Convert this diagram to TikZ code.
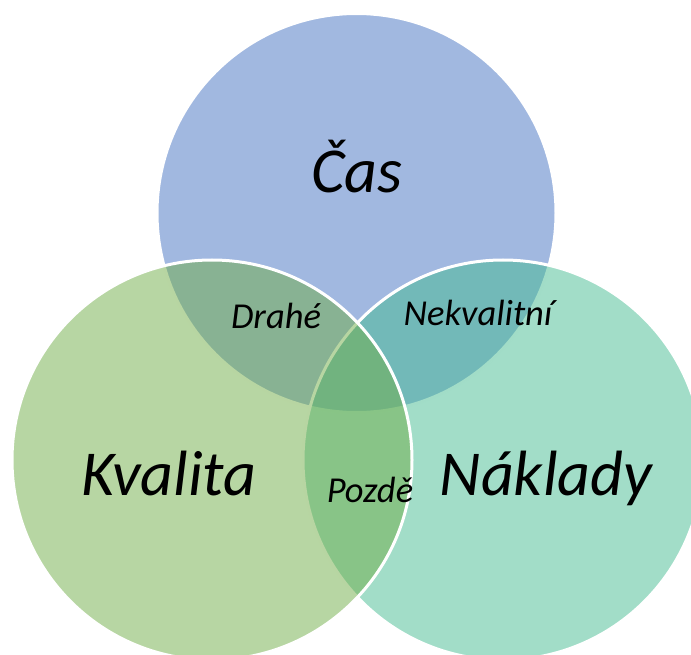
\documentclass[tikz,border=0pt]{standalone}
\usepackage{fontspec}
\setmainfont{Carlito}
\definecolor{vennblue}{RGB}{67,113,193}
\definecolor{vennteal}{RGB}{69,187,145}
\definecolor{venngreen}{RGB}{112,173,71}
\begin{document}
\begin{tikzpicture}[x=1pt,y=-1pt,
  venn/.style={fill opacity=0.5, draw=white, draw opacity=1, line width=3pt},
  biglabel/.style={anchor=base, inner sep=0pt, font=\fontsize{64}{70}\selectfont\itshape},
  smalllabel/.style={anchor=base, inner sep=0pt, font=\fontsize{36.5}{40}\selectfont\itshape}]
\useasboundingbox (0,0) rectangle (691,655);
\begin{scope}
  \clip (0,0) rectangle (691,655);
  % time, cost, quality (drawn in this order so the outlines overlap as intended)
  \path[venn, fill=vennblue]  (356.5,213) circle[radius=199.5];
  \path[venn, fill=vennteal]  (503,460) circle[radius=200];
  \path[venn, fill=venngreen] (212,460) circle[radius=200];
\end{scope}
\node[biglabel] (cas) at (357,193) {Čas};
\node[biglabel] (kvalita) at (169,495) {Kvalita};
\node[biglabel] (naklady) at (546,495) {Náklady};
\node[smalllabel] (drahe) at (276,328) {Drahé};
\node[smalllabel] (nekvalitni) at (478,325) {Nekvalitní};
\node[smalllabel] (pozde) at (370,502) {Pozdě};
\end{tikzpicture}
\end{document}
